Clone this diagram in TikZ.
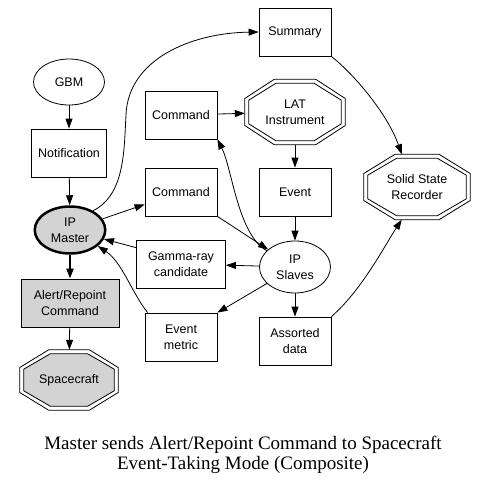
\documentclass[tikz,border=0pt]{standalone}
\usepackage{fontspec}
\setmainfont{Liberation Serif}
\setsansfont{Liberation Sans}
\usetikzlibrary{arrows.meta, positioning, shapes.geometric, calc, backgrounds}
\definecolor{nodeGray}{HTML}{D3D3D3}
\definecolor{lineDark}{HTML}{000000}

\newcommand{\dbloct}[2][white]{%
  \begin{scope}[on background layer]
    \foreach \gap/\col in {0pt/white,4pt/#1}
      \draw[fill=\col, draw=lineDark, line width=0.8pt]
        let \p1=($(#2.north east)-(#2.center)$),
            \n1={\x1-\gap}, \n2={\y1-\gap} in
        ([xshift=0.414*\n1, yshift=\n2]#2.center) --
        ([xshift=\n1, yshift=0.414*\n2]#2.center) --
        ([xshift=\n1, yshift=-0.414*\n2]#2.center) --
        ([xshift=0.414*\n1, yshift=-\n2]#2.center) --
        ([xshift=-0.414*\n1, yshift=-\n2]#2.center) --
        ([xshift=-\n1, yshift=-0.414*\n2]#2.center) --
        ([xshift=-\n1, yshift=0.414*\n2]#2.center) --
        ([xshift=-0.414*\n1, yshift=\n2]#2.center) -- cycle;
  \end{scope}}

\begin{document}
\begin{tikzpicture}[x=1pt, y=-1pt,
    box/.style={rectangle, draw=lineDark, line width=0.8pt,
                minimum width=72pt, minimum height=48pt, inner sep=2pt,
                font=\sffamily\fontsize{12.5}{16}\selectfont, align=center},
    oval/.style={ellipse, draw=lineDark, line width=0.8pt,
                 minimum width=71pt, minimum height=46pt, inner sep=1pt,
                 font=\sffamily\fontsize{12.5}{16}\selectfont, align=center},
    octa/.style={rectangle, draw=none, minimum width=98pt, minimum height=60pt,
                 inner sep=1pt, font=\sffamily\fontsize{12.5}{16}\selectfont,
                 align=center},
    link/.style={draw=lineDark, line width=0.8pt,
                 -{Triangle[length=10pt, width=7pt]}},
    thicklink/.style={link, line width=2pt},
    caption/.style={font=\rmfamily\fontsize{19}{20}\selectfont, align=center,
                    inner sep=0pt},
  ]
  \useasboundingbox (0,0) rectangle (487,488);

  \node[oval] (gbm) at (69,82) {GBM};
  \node[box, minimum width=75pt] (notif) at (69,153) {Notification};
  \node[oval, fill=nodeGray, line width=2.5pt, minimum width=70.5pt,
        minimum height=47pt] (master) at (70,230) {IP\\Master};
  \node[box, fill=nodeGray, minimum width=98pt] (alert) at (70,303)
    {Alert/Repoint\\Command};
  \node[octa] (craft) at (69,380) {Spacecraft};
  \dbloct[nodeGray]{craft}

  \node[box] (cmda) at (181,115) {Command};
  \node[box] (cmdb) at (181,192) {Command};
  \node[box, minimum width=89pt] (gamma) at (181,264) {Gamma-ray\\candidate};
  \node[box] (metric) at (181,337) {Event\\metric};

  \node[box] (summary) at (295,32) {Summary};
  \node[octa, minimum width=100pt, minimum height=65pt] (lat) at (295,112)
    {LAT\\Instrument};
  \dbloct{lat}
  \node[box] (event) at (295,192) {Event};
  \node[oval, minimum height=52pt] (slaves) at (295,267) {IP\\Slaves};
  \node[box] (assorted) at (295,341) {Assorted\\data};

  \node[octa, minimum width=106pt, minimum height=65pt] (ssr) at (417,187)
    {Solid State\\Recorder};
  \dbloct{ssr}

  \node[caption] (title) at (243,455)
    {Master sends Alert/Repoint Command to Spacecraft\\
     Event-Taking Mode (Composite)};

  \draw[link] (gbm) -- (notif);
  \draw[link] (notif) -- (master);
  \draw[link] (master.40) .. controls (125,195) and (124,150) .. (126,115)
    .. controls (128,60) and (190,33) .. (summary.west);
  \draw[link] (master) -- (cmdb);
  \draw[thicklink] (master) -- (alert);
  \draw[link] (alert) -- (craft);

  \draw[link] (cmda) -- (lat);
  \draw[link] (lat) -- (event);
  \draw[link] (event) -- (slaves);
  \draw[link] (cmdb.south east) -- (slaves);
  \draw[link] (slaves.150) .. controls (238,235) and (232,168) .. (cmda.south east);
  \draw[link] (slaves) -- (gamma);
  \draw[link] (gamma.160) -- (master);
  \draw[link] (slaves) -- (metric.north east);
  \draw[link] ([xshift=3pt]metric.north west) .. controls (132,293)
    and (122,262) .. (master.-30);
  \draw[link] (slaves) -- (assorted);

  \draw[link] (assorted.north east) .. controls (362,290) and (385,245) .. (ssr.-115);
  \draw[link] (summary.south east) .. controls (355,75) and (388,115) .. (ssr.115);
\end{tikzpicture}
\end{document}
